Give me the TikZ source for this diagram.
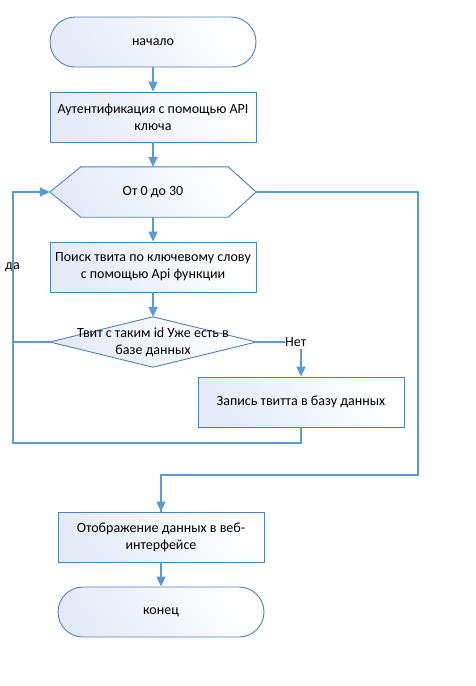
\documentclass[tikz,border=0pt]{standalone}
\usepackage{fontspec}
\setmainfont{Carlito}
\usetikzlibrary{arrows.meta,calc}
\definecolor{bord}{HTML}{4F81BD}
\definecolor{conn}{HTML}{5B9BD5}
\definecolor{fillc}{HTML}{E4EBF6}
\tikzset{
  shadeit/.style={left color=fillc, right color=white, shading angle=125},
  procbox/.style={draw=bord, line width=0.9pt, shadeit, minimum width=206pt, minimum height=50pt, inner sep=2pt, align=center, font=\fontsize{14}{17}\selectfont},
  termbox/.style={procbox, rounded corners=25pt},
  plain/.style={minimum width=206pt, minimum height=50pt, inner sep=0pt, align=center, font=\fontsize{14}{17}\selectfont},
  lbl/.style={inner sep=0pt, font=\fontsize{14}{17}\selectfont},
  conline/.style={draw=conn, line width=2pt},
  conarrow/.style={conline, -{Triangle[length=10pt,width=9pt]}},
}
\begin{document}
\begin{tikzpicture}[x=1pt,y=-1pt]
\useasboundingbox (0,0) rectangle (475,686);
% nodes
\node[termbox] (start) at (153,42) {начало};
\node[procbox] (auth) at (153,117) {Аутентификация с помощью API\\ключа};
\node[plain] (hex) at (153,192) {};
\path[draw=bord, line width=0.9pt, shadeit] (hex.west) -- ([xshift=31pt]hex.north west) -- ([xshift=-28pt]hex.north east) -- (hex.east) -- ([xshift=-28pt]hex.south east) -- ([xshift=31pt]hex.south west) -- cycle;
\node[plain] at (hex.center) {От 0 до 30};
\node[procbox] (search) at (153,267) {Поиск твита по ключевому слову\\с помощью Api функции};
\node[plain] (dia) at (153,342) {};
\path[draw=bord, line width=0.9pt, shadeit] (dia.west) -- (dia.north) -- (dia.east) -- (dia.south) -- cycle;
\node[plain] at (dia.center) {Твит с таким id Уже есть в\\базе данных};
\node[procbox] (write) at (301,402) {Запись твитта в базу данных};
\node[procbox] (disp) at (161,537) {Отображение данных в веб-\\интерфейсе};
\node[termbox] (end) at (161,612) {конец};
% labels
\node[lbl] (yes) at (12.5,267) {да};
\node[lbl, anchor=west] (no) at (285,342) {Нет};
% corner coordinates
\coordinate (lb) at (13,443);
\coordinate (rt) at (418,192);
\coordinate (rb) at (418,475);
% connectors
\draw[conarrow] (start.south) -- (auth.north);
\draw[conarrow] (auth.south) -- (hex.north);
\draw[conarrow] (hex.south) -- (search.north);
\draw[conarrow] (search.south) -- (dia.north);
\draw[conline] (dia.east) -- (no.west);
\draw[conarrow] ([yshift=-2pt]no.south -| write.north) -- (write.north);
\draw[conarrow] (write.south) |- (lb) |- (hex.west);
\draw[conline] (dia.west) -- (dia.west -| lb);
\draw[conline] (hex.east) -- (rt) -- (rb) -| (disp.north);
\draw[conarrow] (rb -| disp.north) -- (disp.north);
\draw[conarrow] (disp.south) -- (end.north);
\end{tikzpicture}
\end{document}
